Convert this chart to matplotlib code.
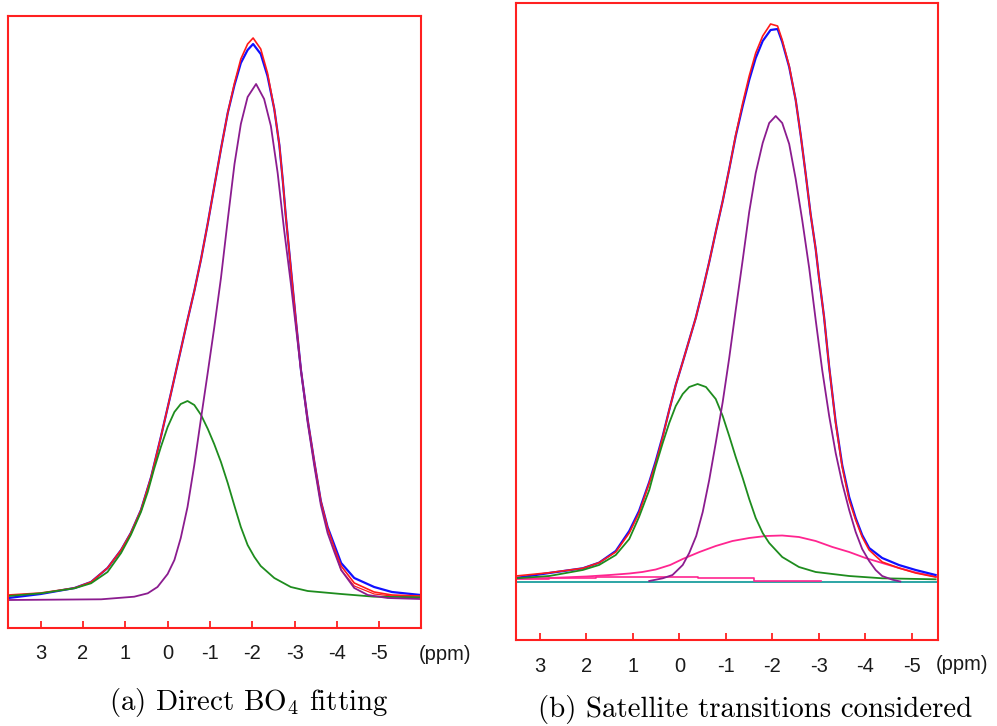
import matplotlib
matplotlib.use("Agg")
import matplotlib.pyplot as plt

plt.rcParams['mathtext.fontset'] = 'cm'
plt.rcParams['axes.unicode_minus'] = False

# ---------------- data: panel (a) ----------------
a_red_ppm = [3.765, 3.0, 2.2, 1.81, 1.42, 1.10, 0.87, 0.63, 0.39, 0.16, -0.08, -0.31, -0.47, -0.63,
             -0.79, -0.95, -1.10, -1.26, -1.42, -1.58, -1.73, -1.89, -2.02, -2.20, -2.36, -2.52,
             -2.64, -2.72, -2.79, -2.87, -2.95, -3.03, -3.15, -3.31, -3.47, -3.62, -3.78, -3.94,
             -4.10, -4.41, -4.88, -5.30, -5.98]
a_red_I = [5, 7, 12, 18, 32, 50, 67, 90, 123, 163, 207, 250, 280, 309,
           341, 377, 413, 451, 487, 517, 541, 556, 562, 551, 527, 491,
           455, 420, 385, 350, 315, 280, 230, 180, 137, 99, 72, 52,
           34, 17, 8, 5, 4]
a_blue_I = [2, 6, 12, 18, 32, 50, 67, 90, 123, 163, 207, 250, 280, 309,
            341, 377, 413, 451, 487, 515, 537, 550, 556, 546, 524, 491,
            455, 420, 385, 350, 315, 280, 230, 180, 137, 99, 73, 55,
            37, 22, 13, 8, 5]
a_red2_ppm = [-3.94, -4.10, -4.41, -4.88, -5.30, -5.98]
a_red2_I = [50, 30, 14, 6, 4, 3]
a_green_ppm = [3.765, 3.0, 2.2, 1.81, 1.42, 1.10, 0.87, 0.63, 0.47, 0.32, 0.16, 0.0, -0.16, -0.31,
               -0.47, -0.63, -0.79, -0.95, -1.10, -1.26, -1.42, -1.58, -1.73, -1.89, -2.05, -2.20,
               -2.52, -2.91, -3.31, -4.10, -4.88, -5.98]
a_green_I = [4, 6.7, 11.7, 16.7, 28, 47, 65, 88, 108, 131, 153, 173, 188, 196,
             199, 195, 185, 171, 156, 138, 117, 94, 73, 55, 43, 34,
             22, 13, 9, 6, 3.3, 2.7]
a_purple_ppm = [3.765, 1.57, 0.79, 0.47, 0.24, 0.0, -0.16, -0.31, -0.47, -0.63, -0.79, -0.95, -1.10,
                -1.26, -1.42, -1.58, -1.73, -1.89, -2.09, -2.28, -2.44, -2.60, -2.75, -2.91, -3.15,
                -3.31, -3.47, -3.62, -3.78, -3.94, -4.10, -4.41, -4.73, -5.20, -5.98]
a_purple_I = [0, 0.7, 3.3, 6.7, 13, 26, 40, 62, 93, 135, 182, 228, 272,
              322, 380, 436, 476, 503, 516, 501, 474, 427, 371, 317, 230,
              177, 133, 95, 67, 48, 30, 12, 5, 2, 1]

# ---------------- data: panel (b) ----------------
b_red_ppm = [3.516, 2.80, 2.08, 1.73, 1.37, 1.08, 0.87, 0.65, 0.51, 0.36, 0.22, 0.08, -0.07, -0.21,
             -0.35, -0.50, -0.64, -0.78, -0.93, -1.07, -1.21, -1.36, -1.50, -1.64, -1.79, -1.96,
             -2.11, -2.21, -2.36, -2.50, -2.61, -2.72, -2.82, -2.93, -3.00, -3.11, -3.22, -3.36,
             -3.50, -3.65, -3.79, -3.93, -4.08, -4.36, -4.72, -5.08, -5.51]
b_red_I = [6, 9.3, 13.7, 19.3, 30, 49, 69, 99, 119, 145, 172, 197, 220, 242,
           264, 292, 320, 350, 381, 413, 447, 479, 506, 529, 546, 558,
           556, 542, 516, 482, 446, 406, 368, 333, 305, 265, 215, 159,
           115, 82, 62, 45, 32, 20, 14, 9, 5]
b_blue_I = [4, 9, 13.7, 19.3, 31, 51, 71, 100, 121, 146, 172, 197, 220, 242,
            264, 292, 320, 350, 381, 413, 446, 476, 502, 524, 541, 552,
            553, 540, 515, 482, 446, 406, 368, 333, 305, 265, 215, 160,
            117, 85, 64, 47, 34, 24, 17, 12, 7]
b_green_ppm = [3.516, 2.80, 2.08, 1.73, 1.37, 1.08, 0.87, 0.65, 0.51, 0.36, 0.22, 0.08, -0.07, -0.21,
               -0.39, -0.57, -0.78, -0.93, -1.07, -1.21, -1.36, -1.50, -1.64, -1.79, -1.93, -2.21,
               -2.57, -2.93, -3.65, -4.36, -5.51]
b_green_I = [3.7, 6, 12, 17, 27, 43, 65, 92, 116, 139, 159, 176, 188, 195,
             198, 195, 183, 166, 146, 125, 104, 83, 64, 49, 39, 25,
             15, 10, 6, 3.7, 2.7]
b_purple_ppm = [0.65, 0.36, 0.15, -0.07, -0.21, -0.36, -0.50, -0.64, -0.78, -0.93, -1.07, -1.21,
                -1.36, -1.50, -1.64, -1.79, -1.93, -2.07, -2.21, -2.36, -2.50, -2.64, -2.79, -2.93,
                -3.07, -3.22, -3.36, -3.50, -3.65, -3.79, -3.93, -4.08, -4.22, -4.36, -4.58, -4.75]
b_purple_I = [1, 3.7, 7, 17, 29, 46, 70, 102, 139, 180, 224, 272,
              322, 370, 409, 439, 459, 466, 459, 438, 403, 362, 314, 262,
              212, 166, 129, 99, 72, 50, 33, 21, 12, 6, 2.3, 0.5]
b_pink_ppm = [3.516, 2.8, 2.0, 1.5, 1.08, 0.8, 0.51, 0.2, -0.07, -0.43, -0.78, -1.14, -1.5, -1.86,
              -2.21, -2.57, -2.93, -3.29, -3.65, -4.0, -4.36, -4.72, -5.08, -5.55]
b_pink_I = [3.5, 4, 5.5, 7, 8.5, 10, 12.5, 17, 23, 30, 36, 41, 44, 46,
            46.5, 45, 41, 35, 30, 24, 19, 14, 9.5, 5]
b_flat_ppm = [3.5, 2.80, 1.80, -0.39, -1.60, -3.04]
b_flat_I = [2.7, 3.7, 5.3, 3.7, 1.3, 1.3]
b_base_ppm = [3.516, -5.55]
b_base_I = [0, 0]

tick_vals = [3, 2, 1, 0, -1, -2, -3, -4, -5]
tick_labels = ['3', '2', '1', '0', '-1', '-2', '-3', '-4', '-5']

RED = '#ff1a1a'
BLUE = '#1010ff'
GREEN = '#1e8c1e'
PURPLE = '#8b1c8f'
PINK = '#ff2590'
TEAL = '#1b9e9e'
FRAME = '#ff2020'
TXT = '#1a1a1a'

W, H = 997, 726
fig = plt.figure(figsize=(W / 100, H / 100), dpi=100)


def make_ax(x0, y0, x1, y1):
    return fig.add_axes([x0 / W, 1 - y1 / H, (x1 - x0) / W, (y1 - y0) / H])


def style(ax, xlim, ylim, pad):
    ax.set_xlim(*xlim)
    ax.set_ylim(*ylim)
    ax.set_yticks([])
    ax.set_xticks(tick_vals)
    ax.set_xticklabels(tick_labels, family='Liberation Sans', fontsize=14.5, color=TXT)
    ax.tick_params(axis='x', direction='in', length=5, width=1.3, color=FRAME, pad=pad)
    for s in ax.spines.values():
        s.set_color(FRAME)
        s.set_linewidth(1.5)


axa = make_ax(8.3, 16, 420.7, 628.3)
axa.plot(a_red_ppm, a_blue_I, color=BLUE, lw=1.6)
axa.plot(a_red_ppm, a_red_I, color=RED, lw=1.2)
axa.plot(a_red2_ppm, a_red2_I, color=RED, lw=0.9)
axa.plot(a_green_ppm, a_green_I, color=GREEN, lw=1.3)
axa.plot(a_purple_ppm, a_purple_I, color=PURPLE, lw=1.3)
style(axa, (3.765, -5.98), (-28.3, 584), 11)

axb = make_ax(516, 3, 937.5, 640)
axb.plot(b_base_ppm, b_base_I, color=TEAL, lw=1.3)
axb.plot(b_flat_ppm, b_flat_I, color=PINK, lw=1.2, drawstyle='steps-post')
axb.plot(b_pink_ppm, b_pink_I, color=PINK, lw=1.3)
axb.plot(b_red_ppm, b_blue_I, color=BLUE, lw=1.6)
axb.plot(b_red_ppm, b_red_I, color=RED, lw=1.2)
axb.plot(b_green_ppm, b_green_I, color=GREEN, lw=1.3)
axb.plot(b_purple_ppm, b_purple_I, color=PURPLE, lw=1.3)
style(axb, (3.516, -5.55), (-58, 579), 12)

fig.text(419 / W, 1 - 654 / H, '(ppm)', family='Liberation Sans', fontsize=14.5,
         color=TXT, ha='left', va='center')
fig.text(936 / W, 1 - 665 / H, '(ppm)', family='Liberation Sans', fontsize=14.5,
         color=TXT, ha='left', va='center')

fig.text(249 / W, 1 - 710 / H, r'(a) Direct BO$_4$ fitting', family='cmr10', fontsize=20.8,
         ha='center', va='baseline')
fig.text(755.5 / W, 1 - 716.5 / H, '(b) Satellite transitions considered', family='cmr10',
         fontsize=20.8, ha='center', va='baseline')

fig.savefig('out.png', dpi=100, facecolor='white')
